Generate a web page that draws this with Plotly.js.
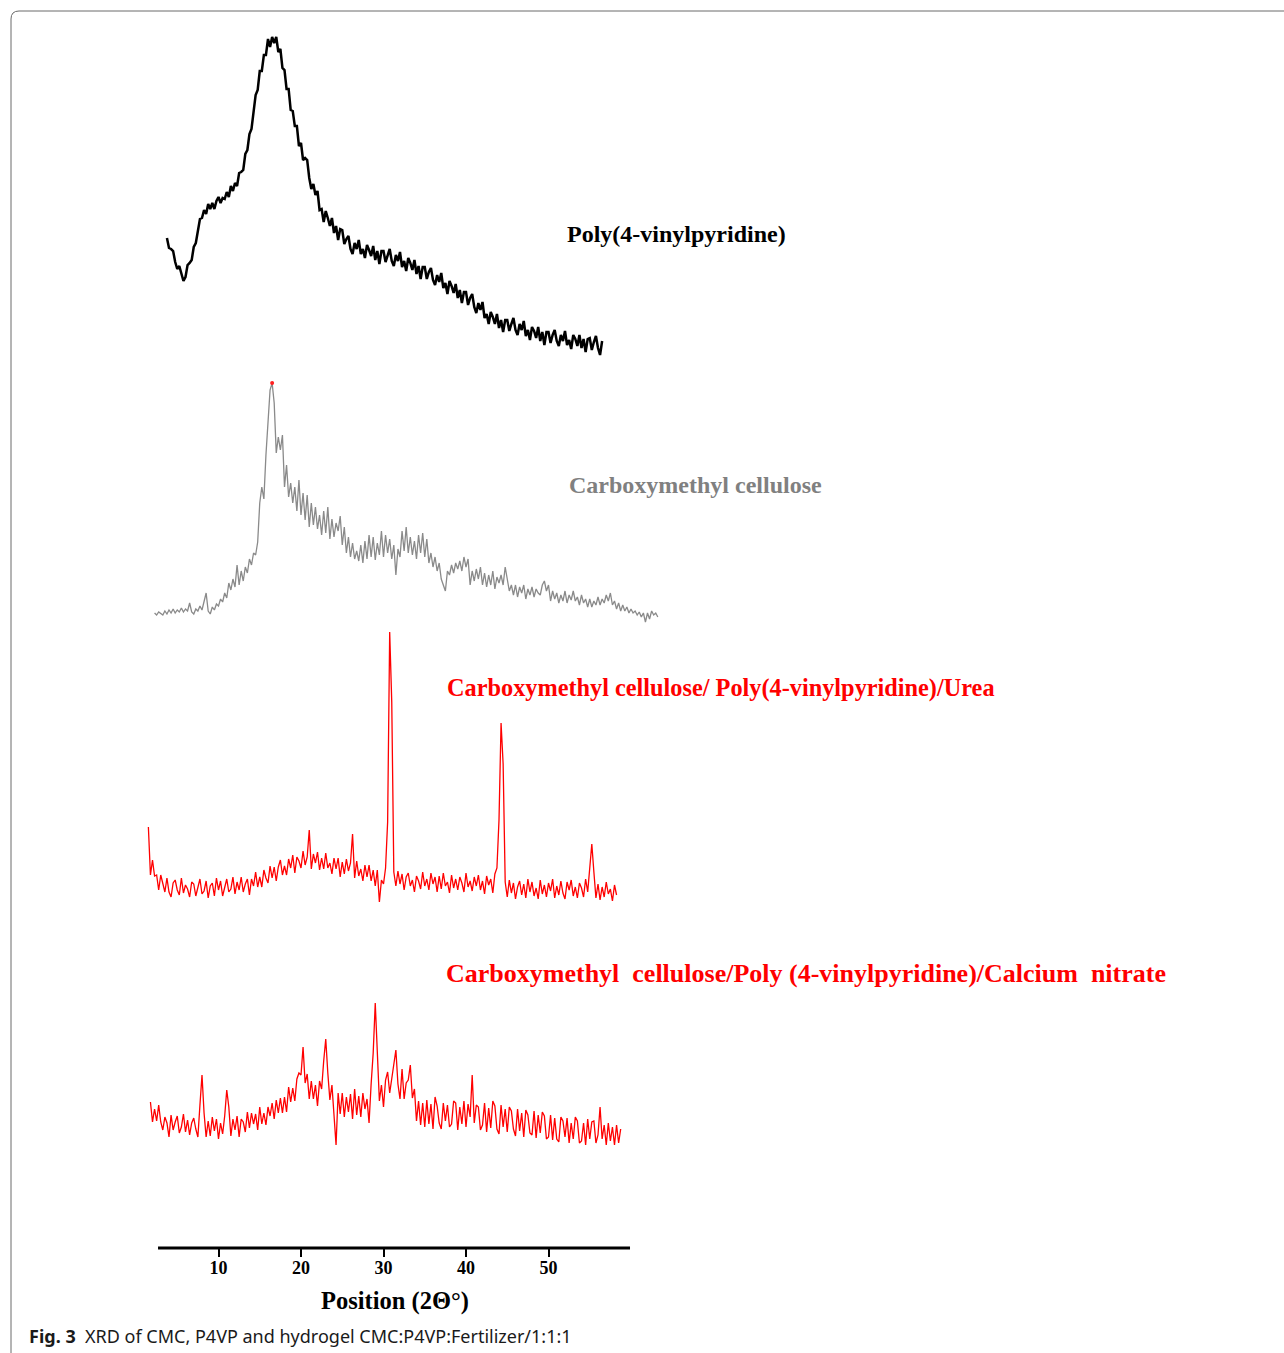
<!DOCTYPE html>
<html>
<head>
<meta charset="utf-8">
<script src="https://cdn.plot.ly/plotly-3.0.1.min.js"></script>
<style>
  html, body { margin: 0; padding: 0; background: #ffffff; }
  #chart { width: 1284px; height: 1353px; }
</style>
</head>
<body>
<div id="chart"></div>
<script>
// ---------- DATA (intensity, arbitrary units, step 0.25° 2θ) ----------
const STEP = 0.25;

// Poly(4-vinylpyridine): 2θ from 3.75°
const p4vpStart = 3.75;
const p4vpIntensity = [
  112,
  102,101,99,88,   81,84,77,69,    73,85,87,90,    103,107,119,131,
  132,140,136,146, 141,147,141,149, 153,147,152,151, 158,153,164,159,
  167,164,177,178, 180,196,200,216, 221,240,255,260, 279,279,295,295,
  311,303,313,307, 313,298,301,282, 280,261,261,240, 239,224,224,204,
  207,190,192,190, 172,161,166,155, 159,140,141,128, 139,132,124,132,
  117,124,110,121, 120,106,111,114, 101,96,107,101, 110,96,101,92,
  105,100,94,104,  90,99,86,99,     99,88,95,101,   89,84,95,89,
  98,83,89,79,     92,87,80,90,     76,84,71,83,    83,71,78,82,
  70,65,75,68,     77,62,67,56,     69,64,57,66,    52,60,47,58,
  58,45,52,56,     43,37,47,40,     48,32,36,26,    38,33,26,36,
  22,30,18,30,     30,19,26,32,     20,15,26,20,    29,14,20,10,
  23,19,12,23,     9,18,5,18,       18,7,15,20,     9,4,15,9,
  19,5,10,1,       15,11,4,15,      2,11,-2,11,     12,0,8,14,
  2,-5,9
];

// Carboxymethyl cellulose: 2θ from 2.25°
const cmcStart = 2.25;
const cmcIntensity = [
  2,0,3,
  1,0,4,1,      5,2,6,2,      5,3,7,3,      6,4,12,3,     1,6,4,9,
  5,14,22,4,    1,8,5,11,     9,16,13,22,   17,32,25,36,  28,50,30,44,
  34,48,42,56,  50,62,60,73,  112,128,116,160, 190,225,232,212, 162,178,165,180,
  128,150,118,132, 112,128,104,135, 100,122,95,120, 88,112,90,108, 86,100,80,104,
  82,108,76,96, 78,92,84,99,  70,88,62,78,  58,72,56,64,  54,70,52,74,
  56,80,58,78,  55,72,60,84,  58,80,62,76,  56,70,40,66,  58,84,64,88,
  62,78,60,74,  56,80,62,82,  58,76,52,62,  48,58,44,52,  36,30,24,44,
  40,50,42,52,  46,54,44,58,  48,56,30,44,  34,46,36,48,  30,42,28,40,
  30,44,26,38,  32,40,30,48,  36,24,30,20,  30,18,28,22,  30,16,26,20,
  28,18,26,22,  20,30,34,24,  30,14,24,16,  22,12,20,14,  24,12,20,15,
  24,14,18,10,  20,12,16,8,   16,8,14,10,   18,10,16,12,  20,14,22,10,
  14,6,12,4,    10,4,8,2,     6,2,4,0,      3,-2,2,-7,    2,-4,4,0,
  2,-2
];

// CMC / P4VP / Urea hydrogel: 2θ from 1.5°
const ureaStart = 1.5;
const ureaIntensity = [
  65,17,
  32,16,17,2,   17,9,0,14,    0,-5,9,12,    2,-3,14,-1,   7,3,-5,10,
  8,-4,5,13,    -2,1,11,-6,   6,9,-4,14,    2,11,-4,6,    13,0,3,15,
  -2,10,2,15,   0,8,13,-3,    13,6,20,5,    15,5,22,14,   9,26,14,25,
  11,25,32,17,  26,17,33,24,  37,19,35,31,  24,41,27,35,  62,23,38,29,
  40,22,34,23,  39,24,29,18,  34,23,34,15,  30,18,33,21,  29,58,14,31,
  16,23,11,27,  15,27,11,22,  6,22,-10,12,  8,24,70,260,  190,20,6,21,
  8,18,2,15,    19,6,12,0,    16,11,3,20,   6,13,2,19,    8,15,0,16,
  3,19,6,10,    -1,17,4,13,   2,15,9,0,     19,5,11,1,    15,6,17,2,
  11,-2,16,7,   13,-1,18,24,  72,169,128,10, -5,12,-1,9,  -7,5,11,-3,
  8,-6,13,0,    10,-4,4,-7,   12,-2,7,-5,   9,1,13,-6,    6,-3,11,-1,
  -7,10,2,12,   -4,5,-6,9,    4,-5,13,0,    24,48,20,-6,  8,-8,5,-5,
  10,-2,3,-9,   7,-3
];

// CMC / P4VP / Calcium nitrate hydrogel: 2θ from 1.75°
const caStart = 1.75;
const caIntensity = [
  33,
  13,26,14,30,  13,5,18,12,   -2,20,5,13,   19,2,8,21,    3,15,0,12,
  17,6,-2,30,   60,22,-2,14,  -1,18,4,16,   -4,12,1,19,   45,28,-1,16,
  5,19,-2,16,   13,3,23,7,    22,11,21,5,   28,11,22,10,  28,19,32,16,
  35,22,37,22,  38,23,48,33,  47,34,56,62,  60,88,52,61,  36,54,36,50,
  29,54,46,74,  96,62,35,50,  24,-10,42,21, 42,18,38,23,  41,16,46,20,
  39,18,42,26,  36,12,51,82,  132,78,34,50, 28,55,63,42,  56,68,85,51,
  36,66,36,52,  55,70,37,46,  14,34,10,32,  8,35,11,31,   6,38,29,12,
  6,32,14,30,   8,11,34,32,   5,28,11,34,   8,31,18,60,   12,30,28,5,
  10,32,3,27,   7,34,29,6,    1,30,8,26,    3,28,24,6,    -1,26,4,22,
  -2,25,20,2,   0,24,-3,20,   2,23,19,-4,   -2,20,-5,17,  -4,-7,18,14,
  -2,17,-8,12,  -4,18,14,-8,  -6,12,-10,16, -4,13,14,-8,  0,28,-4,10,
  -10,12,-6,8,  -10,10,-8,6
];

// stacking offsets (vertical shift of each pattern)
const offP4VP = 898, offCMC = 633, offUrea = 356, offCa = 113;

const tickVals = [10, 20, 30, 40, 50];
const tickText = ['10', '20', '30', '40', '50'];
const axisStart = 2.67, axisEnd = 59.88;

const NB = '\u00a0';
const labels = {
  p4vp: 'Poly(4-vinylpyridine)',
  cmc: 'Carboxymethyl cellulose',
  urea: 'Carboxymethyl cellulose/ Poly(4-vinylpyridine)/Urea',
  ca: 'Carboxymethyl' + NB.repeat(2) + 'cellulose/Poly (4-vinylpyridine)/Calcium' + NB.repeat(2) + 'nitrate'
};

// ---------- BUILD ----------
function build(start, vals, off) {
  const x = [], y = [];
  vals.forEach((v, i) => { x.push(start + i * STEP); y.push(v + off); });
  return { x, y };
}
const sP = build(p4vpStart, p4vpIntensity, offP4VP);
const sC = build(cmcStart, cmcIntensity, offCMC);
const sU = build(ureaStart, ureaIntensity, offUrea);
const sA = build(caStart, caIntensity, offCa);

// peak marker of CMC
const cmcMaxIdx = cmcIntensity.indexOf(Math.max(...cmcIntensity));

const W = 1284, H = 1353, PLOT_BOTTOM = 1248;
const px = v => v / W;
const py = v => (PLOT_BOTTOM - v) / PLOT_BOTTOM;

// x mapping: 10° at 218.5px, 8.25 px per degree
const xr = [10 - 218.5 / 8.25, 10 + (W - 218.5) / 8.25];

const traces = [
  { x: sP.x, y: sP.y, mode: 'lines', line: { color: '#000000', width: 2.5 }, hoverinfo: 'skip' },
  { x: sC.x, y: sC.y, mode: 'lines', line: { color: '#8a8a8a', width: 1.3 }, hoverinfo: 'skip' },
  { x: [sC.x[cmcMaxIdx]], y: [sC.y[cmcMaxIdx]], mode: 'markers', marker: { color: '#ff2020', size: 4 }, hoverinfo: 'skip' },
  { x: sU.x, y: sU.y, mode: 'lines', line: { color: '#ff0000', width: 1.3 }, hoverinfo: 'skip' },
  { x: sA.x, y: sA.y, mode: 'lines', line: { color: '#ff0000', width: 1.3 }, hoverinfo: 'skip' }
];

const serif = 'Liberation Serif, Times New Roman, serif';

const layout = {
  width: W, height: H,
  margin: { l: 0, r: 0, t: 0, b: H - PLOT_BOTTOM, pad: 0 },
  paper_bgcolor: '#ffffff', plot_bgcolor: '#ffffff',
  showlegend: false,
  xaxis: {
    range: xr, showgrid: false, zeroline: false, showline: false,
    tickmode: 'array', tickvals: tickVals, ticktext: tickText.map(t => '<b>' + t + '</b>'),
    ticks: 'outside', ticklen: 8, tickwidth: 2, tickcolor: '#000',
    ticklabelstandoff: -5,
    tickfont: { family: serif, size: 18, color: '#000' }
  },
  yaxis: { range: [0, PLOT_BOTTOM], visible: false, showgrid: false, zeroline: false },
  shapes: [
    { type: 'line', xref: 'x', yref: 'paper', x0: axisStart, x1: axisEnd, y0: 0, y1: 0,
      line: { color: '#000', width: 3 } },
    { type: 'path', xref: 'paper', yref: 'paper',
      path: `M ${px(11)} ${py(H)} L ${px(11)} ${py(19)} Q ${px(11)} ${py(11)} ${px(19)} ${py(11)} L ${px(W)} ${py(11)}`,
      line: { color: '#6a6a6a', width: 1 } }
  ],
  annotations: [
    { text: '<b>' + labels.p4vp + '</b>', xref: 'paper', yref: 'paper', x: px(565), y: py(234),
      xanchor: 'left', yanchor: 'middle', showarrow: false, font: { family: serif, size: 24, color: '#000' } },
    { text: '<b>' + labels.cmc + '</b>', xref: 'paper', yref: 'paper', x: px(567), y: py(485),
      xanchor: 'left', yanchor: 'middle', showarrow: false, font: { family: serif, size: 24, color: '#808080' } },
    { text: '<b>' + labels.urea + '</b>', xref: 'paper', yref: 'paper', x: px(445), y: py(688),
      xanchor: 'left', yanchor: 'middle', showarrow: false, font: { family: serif, size: 24.3, color: '#ff0000' } },
    { text: '<b>' + labels.ca + '</b>', xref: 'paper', yref: 'paper', x: px(444), y: py(973),
      xanchor: 'left', yanchor: 'middle', showarrow: false, font: { family: serif, size: 26, color: '#ff0000' } },
    { text: '<b>Position (2Θ°)</b>', xref: 'paper', yref: 'paper', x: px(395), y: py(1301),
      xanchor: 'center', yanchor: 'middle', showarrow: false, font: { family: serif, size: 24.5, color: '#000' } },
    { text: '<b>Fig. 3</b>  XRD of CMC, P4VP and hydrogel CMC:P4VP:Fertilizer/1:1:1', xref: 'paper', yref: 'paper',
      x: px(27), y: py(1336), xanchor: 'left', yanchor: 'middle', showarrow: false,
      font: { family: 'Noto Sans, Open Sans, sans-serif', size: 18, color: '#1a1a1a' } }
  ]
};

Plotly.newPlot('chart', traces, layout, { displayModeBar: false, staticPlot: true });
</script>
</body>
</html>
